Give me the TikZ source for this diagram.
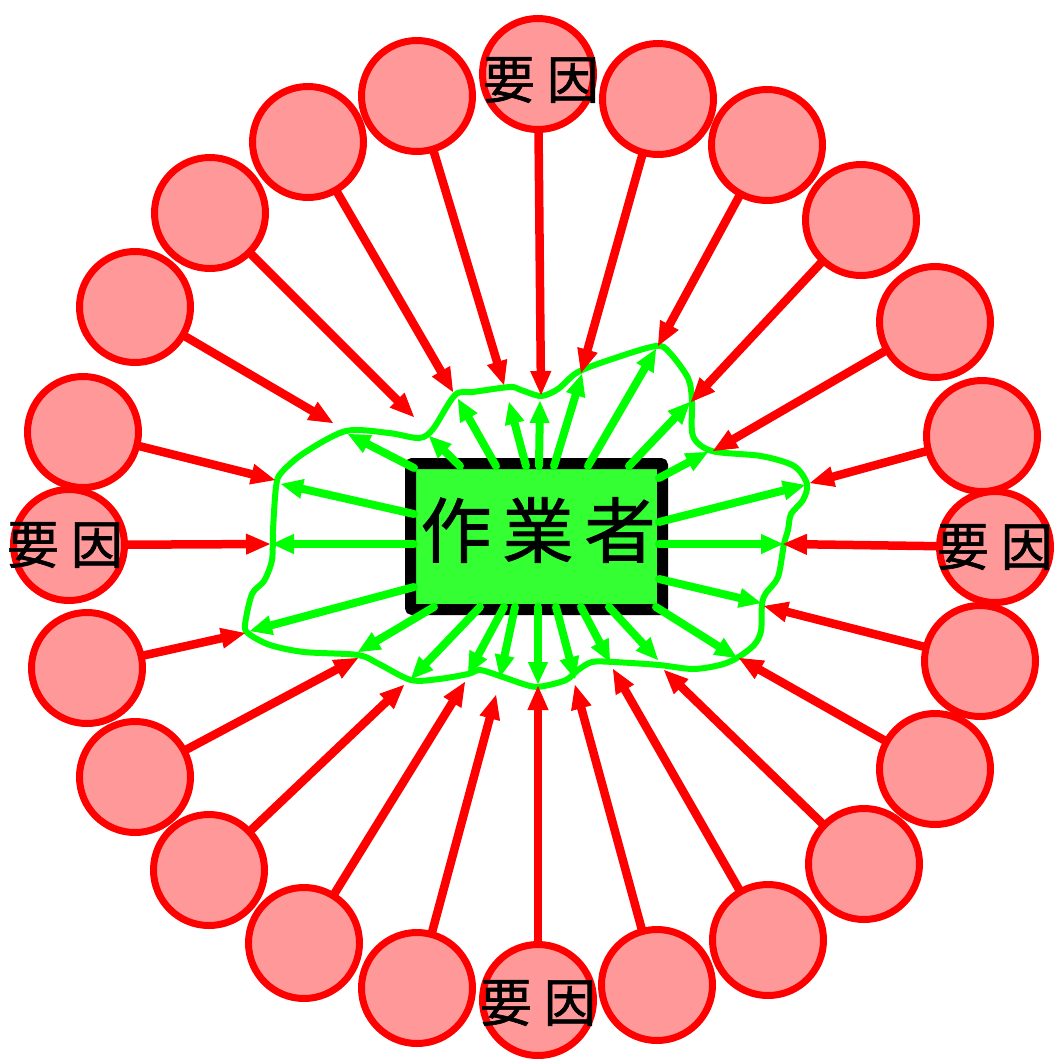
\documentclass[tikz,border=0pt]{standalone}
\usepackage{fontspec}
\newfontfamily\jpfont[FakeBold=1.2]{Noto Sans CJK JP}
\usetikzlibrary{arrows.meta}
\definecolor{fpink}{HTML}{FF9999}
\definecolor{fred}{HTML}{FF0000}
\definecolor{fgreen}{HTML}{00FF00}
\definecolor{bgreen}{HTML}{33FF33}
\begin{document}
\begin{tikzpicture}[x=1pt,y=-1pt,
  factor/.style={circle,draw=fred,fill=fpink,line width=7pt,minimum size=111pt,inner sep=0pt},
  lbl/.style={font=\jpfont\fontsize{52pt}{52pt}\selectfont,inner sep=0pt},
  wtext/.style={font=\jpfont\fontsize{71pt}{71pt}\selectfont,inner sep=0pt},
  worker/.style={draw=black,fill=bgreen,line width=11pt,rounded corners=2pt,minimum width=252pt,minimum height=146pt,inner sep=0pt},
  redarr/.style={draw=fred,line width=8.5pt,line cap=round,-{Triangle[length=24pt,width=21pt,line width=1pt]}},
  grnarr/.style={draw=fgreen,line width=8pt,line cap=round,-{Triangle[length=22pt,width=20pt,line width=1pt]}},
  blob/.style={draw=fgreen,line width=6pt},
]
\useasboundingbox (0,0) rectangle (1054,1061);

% blob outline
\draw[blob] plot[smooth cycle, tension=0.5] coordinates {
(541,396) (558,389) (578,372) (615,358) (656,346) (669,352) (688,378) (692,401)
(693,436) (712,451) (761,456) (794,466) (807,484) (803,500) (791,514) (788,530)
(784,544) (778,577) (766,593) (762,604) (761,631) (754,645) (737,658) (720,665)
(693,669) (659,665) (614,662) (592,662) (578,670) (566,680) (544,686) (530,686)
(500,676) (480,670) (468,674) (439,679) (411,680) (379,664) (358,655) (304,652)
(270,645) (249,634) (245,625) (252,594) (264,581) (272,560) (273,530) (276,487)
(281,473) (304,453) (346,431) (389,433) (419,438) (433,429) (455,395) (473,392)
(510,387) (521,390)};

% central box
\node[worker] (w) at (536.5,536.5) {};
\node[wtext] (wt) at (538,530) {作\hspace{11pt}業\hspace{11pt}者};

% factor circles
\node[factor] (c1) at (538,74) {};
\node[factor] (c2) at (658,99) {};
\node[factor] (c3) at (767,145) {};
\node[factor] (c4) at (861,220) {};
\node[factor] (c5) at (935,322) {};
\node[factor] (c6) at (982,436) {};
\node[factor] (c7) at (995,547) {};
\node[factor] (c8) at (980,661) {};
\node[factor] (c9) at (935,769) {};
\node[factor] (c10) at (864,864) {};
\node[factor] (c11) at (768,940) {};
\node[factor] (c12) at (657,985) {};
\node[factor] (c13) at (538,1000) {};
\node[factor] (c14) at (417,988) {};
\node[factor] (c15) at (304,943) {};
\node[factor] (c16) at (209,870) {};
\node[factor] (c17) at (135,777) {};
\node[factor] (c18) at (87,668) {};
\node[factor] (c19) at (69,545) {};
\node[factor] (c20) at (83,432) {};
\node[factor] (c21) at (135,307) {};
\node[factor] (c22) at (210,213) {};
\node[factor] (c23) at (308,142) {};
\node[factor] (c24) at (417,96) {};

\node[lbl] (t1) at (541,80) {要\hspace{12pt}因};
\node[lbl] (t7) at (995,547) {要\hspace{12pt}因};
\node[lbl] (t13) at (538,1003) {要\hspace{12pt}因};
\node[lbl] (t19) at (65,545) {要\hspace{12pt}因};

% red tips
\coordinate (r1) at (541,395);
\coordinate (r2) at (581,373);
\coordinate (r3) at (658,346);
\coordinate (r4) at (691,402);
\coordinate (r5) at (713,451);
\coordinate (r6) at (810,483);
\coordinate (r7) at (783,544);
\coordinate (r8) at (764,606);
\coordinate (r9) at (739,658);
\coordinate (r10) at (664,670);
\coordinate (r11) at (613,669);
\coordinate (r12) at (575,685);
\coordinate (r13) at (538,686);
\coordinate (r14) at (496,695);
\coordinate (r15) at (465,682);
\coordinate (r16) at (404,685);
\coordinate (r17) at (358,658);
\coordinate (r18) at (245,633);
\coordinate (r19) at (270,544);
\coordinate (r20) at (275,480);
\coordinate (r21) at (333,423);
\coordinate (r22) at (414,417);
\coordinate (r23) at (453,392);
\coordinate (r24) at (504,385);

% green starts (on box) and tips (on blob)
\coordinate (s1) at (539,466);  \coordinate (g1) at (540,401);
\coordinate (s2) at (554,466);  \coordinate (g2) at (582,374);
\coordinate (s3) at (588,466);  \coordinate (g3) at (656,349);
\coordinate (s4) at (629,466);  \coordinate (g4) at (690,402);
\coordinate (s5) at (659,478);  \coordinate (g5) at (708,452);
\coordinate (s6) at (659,522);  \coordinate (g6) at (805,485);
\coordinate (s7) at (659,544);  \coordinate (g7) at (783,544);
\coordinate (s8) at (659,579);  \coordinate (g8) at (761,603);
\coordinate (s9) at (656,607);  \coordinate (g9) at (737,658);
\coordinate (s10) at (609,607); \coordinate (g10) at (658,660);
\coordinate (s11) at (581,607); \coordinate (g11) at (610,662);
\coordinate (s12) at (556,607); \coordinate (g12) at (575,679);
\coordinate (s13) at (538,607); \coordinate (g13) at (538,684);
\coordinate (s14) at (515,607); \coordinate (g14) at (500,677);
\coordinate (s15) at (504,607); \coordinate (g15) at (468,674);
\coordinate (s16) at (480,607); \coordinate (g16) at (411,679);
\coordinate (s17) at (434,607); \coordinate (g17) at (358,652);
\coordinate (s18) at (414,587); \coordinate (g18) at (250,631);
\coordinate (s19) at (414,544); \coordinate (g19) at (272,544);
\coordinate (s20) at (414,514); \coordinate (g20) at (281,484);
\coordinate (s21) at (414,468); \coordinate (g21) at (348,434);
\coordinate (s22) at (460,466); \coordinate (g22) at (429,436);
\coordinate (s23) at (496,466); \coordinate (g23) at (458,399);
\coordinate (s24) at (526,466); \coordinate (g24) at (509,402);

\foreach \i in {1,...,24} {
  \draw[grnarr] (s\i) -- (g\i);
}
\foreach \i in {1,...,24} {
  \draw[redarr] (c\i) -- (r\i);
}
\end{tikzpicture}
\end{document}
